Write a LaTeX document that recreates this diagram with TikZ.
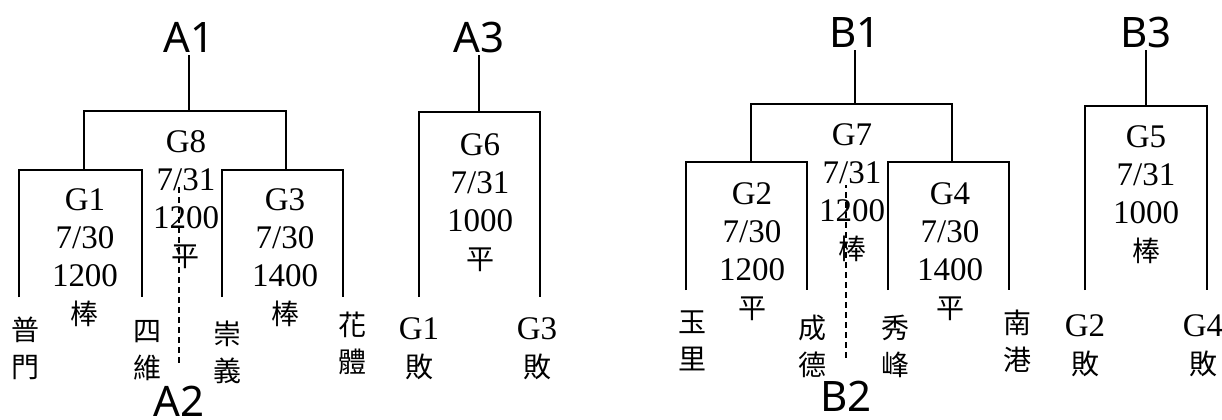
\documentclass[tikz,border=0pt]{standalone}
\usepackage{fontspec}
\setmainfont{Liberation Serif}
\newfontfamily\cjk{Noto Sans CJK TC}
\newfontfamily\poolfont{Noto Sans}
\usetikzlibrary{positioning}
\newcommand{\hanzi}[1]{{\cjk\fontsize{14}{19}\selectfont #1}}

\begin{document}
\begin{tikzpicture}[x=0.5pt, y=-0.5pt, line width=1pt,
    pool/.style={font=\poolfont\fontsize{21}{21}\selectfont, inner sep=1pt},
    game/.style={align=center, inner sep=0pt, font=\fontsize{16.5}{19}\selectfont},
    team/.style={align=center, inner sep=0pt, font=\cjk\fontsize{14}{18.5}\selectfont},
    guide/.style={dash pattern=on 3pt off 2pt, line width=0.8pt, shorten <=10pt}]
  \useasboundingbox (0,0) rectangle (1222,419);

  % pool A
  \node (A1) [pool] at (189,37) {A1};
  \node (A2) [pool, inner sep=0pt] at (179,401) {A2};
  \node (A3) [pool] at (479,37) {A3};
  \node (G8) [game] at (186,200) {G8\\7/31\\1200\\\hanzi{平}};
  \node (G1) [game] at (85,258) {G1\\7/30\\1200\\\hanzi{棒}};
  \node (G3) [game] at (285,258) {G3\\7/30\\1400\\\hanzi{棒}};
  \node (G6) [game] at (480,203) {G6\\7/31\\1000\\\hanzi{平}};
  \node (pumen) [team] at (25,348) {普\\門};
  \node (siwei) [team] at (147,351) {四\\維};
  \node (chongyi) [team] at (227,352) {崇\\義};
  \node (huati) [team] at (352,343) {花\\體};
  \node (loseG1) [game] at (419,349) {G1\\\hanzi{敗}};
  \node (loseG3) [game] at (537,349) {G3\\\hanzi{敗}};

  \coordinate (a1b) at (189,111);
  \coordinate (g8l) at (84,170);
  \coordinate (g8r) at (286,170);
  \coordinate (g1l) at (19,297);
  \coordinate (g1r) at (142,297);
  \coordinate (g3l) at (222,297);
  \coordinate (g3r) at (343,297);
  \coordinate (a2t) at (179,187);
  \coordinate (a3b) at (479,112);
  \coordinate (g6l) at (419,297);
  \coordinate (g6r) at (540,297);

  \draw (A1) -- (a1b);
  \draw (g8l) |- (a1b) -| (g8r);
  \draw (g1l) |- (g8l) -| (g1r);
  \draw (g3l) |- (g8r) -| (g3r);
  \draw [guide, shorten <=11pt] (A2) -- (a2t);
  \draw (A3) -- (a3b);
  \draw (g6l) |- (a3b) -| (g6r);

  % pool B
  \node (B1) [pool] at (855,32) {B1};
  \node (B2) [pool, inner sep=0pt] at (846,396) {B2};
  \node (B3) [pool] at (1146,32) {B3};
  \node (G7) [game] at (852,193) {G7\\7/31\\1200\\\hanzi{棒}};
  \node (G2) [game] at (752,252) {G2\\7/30\\1200\\\hanzi{平}};
  \node (G4) [game] at (950,252) {G4\\7/30\\1400\\\hanzi{平}};
  \node (G5) [game] at (1146,195) {G5\\7/31\\1000\\\hanzi{棒}};
  \node (yuli) [team] at (692,341) {玉\\里};
  \node (chengde) [team] at (812,346) {成\\德};
  \node (xiufeng) [team] at (895,346) {秀\\峰};
  \node (nangang) [team] at (1017,341) {南\\港};
  \node (loseG2) [game] at (1085,346) {G2\\\hanzi{敗}};
  \node (loseG4) [game] at (1203,346) {G4\\\hanzi{敗}};

  \coordinate (b1b) at (855,104);
  \coordinate (g7l) at (751,162);
  \coordinate (g7r) at (952,162);
  \coordinate (g2l) at (686,290);
  \coordinate (g2r) at (807,290);
  \coordinate (g4l) at (888,290);
  \coordinate (g4r) at (1009,290);
  \coordinate (b2t) at (846,185);
  \coordinate (b3b) at (1146,106);
  \coordinate (g5l) at (1085,290);
  \coordinate (g5r) at (1207,290);

  \draw (B1) -- (b1b);
  \draw (g7l) |- (b1b) -| (g7r);
  \draw (g2l) |- (g7l) -| (g2r);
  \draw (g4l) |- (g7r) -| (g4r);
  \draw [guide, shorten <=11pt] (B2) -- (b2t);
  \draw (B3) -- (b3b);
  \draw (g5l) |- (b3b) -| (g5r);
\end{tikzpicture}
\end{document}
